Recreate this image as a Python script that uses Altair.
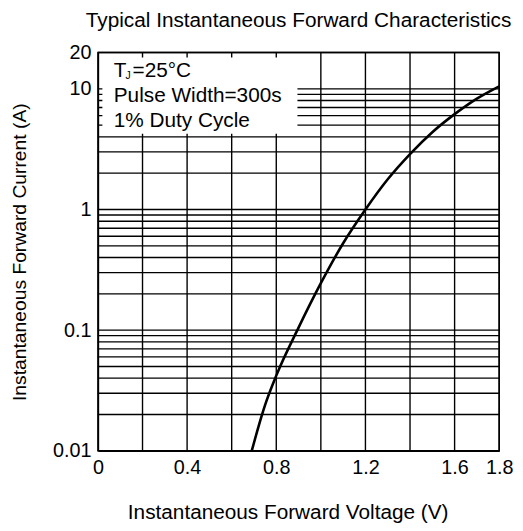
import altair as alt
import pandas as pd

# Curve data
volts = [0.69, 0.72, 0.75, 0.8, 0.9, 1.0, 1.1, 1.2, 1.3, 1.4, 1.5, 1.6, 1.7, 1.8]
amps = [0.01, 0.0158, 0.024, 0.042, 0.105, 0.245, 0.525, 1.0, 1.78, 2.88, 4.37, 6.17, 8.3, 10.5]

# Grid / ticks
x_grid = [0.2, 0.4, 0.6, 0.8, 1.0, 1.2, 1.4, 1.6, 1.8]
y_grid = [0.02, 0.03, 0.04, 0.05, 0.06, 0.07, 0.08, 0.09,
          0.1, 0.2, 0.3, 0.4, 0.5, 0.6, 0.7, 0.8, 0.9,
          1, 2, 3, 4, 5, 6, 7, 8, 9, 10, 20]
x_ticks = [0, 0.4, 0.8, 1.2, 1.6, 1.8]
y_ticks = [0.01, 0.1, 1, 10, 20]

title_text = "Typical Instantaneous Forward Characteristics"
x_title = "Instantaneous Forward Voltage (V)"
y_title = "Instantaneous Forward Current (A)"
note_lines = ["Pulse Width=300s", "1% Duty Cycle"]

FONT = "Liberation Sans"
FS_TICK = 20
FS_TEXT = 21

xs = alt.Scale(domain=[0, 1.8], nice=False, zero=False)
ys = alt.Scale(type="log", domain=[0.01, 20], nice=False)

x_axis = alt.Axis(values=x_ticks, grid=False, ticks=False, domain=True,
                  labelFont=FONT, labelFontSize=FS_TICK, labelColor="black",
                  labelPadding=7, labelFlush=False, title=x_title,
                  titleFont=FONT, titleFontSize=FS_TEXT, titleFontWeight="normal",
                  titleColor="black", titlePadding=25, titleX=192, titleAlign="center",
                  domainColor="black", domainWidth=1.5,
                  labelExpr="datum.value == 0 ? '0' : format(datum.value, '.1f')")
y_axis = alt.Axis(values=y_ticks, grid=False, ticks=False, domain=True,
                  labelFont=FONT, labelFontSize=FS_TICK, labelColor="black",
                  labelPadding=7, labelFlush=False, title=y_title,
                  titleFont=FONT, titleFontSize=19.5, titleFontWeight="normal",
                  titleColor="black", titlePadding=23, domainColor="black",
                  domainWidth=1.5, labelExpr="format(datum.value, '~g')")

curve_df = pd.DataFrame({"v": volts, "i": amps})
vgrid_df = pd.DataFrame({"v": x_grid, "lo": [0.01] * len(x_grid), "hi": [20] * len(x_grid)})
hgrid_df = pd.DataFrame({"i": y_grid, "lo": [0] * len(y_grid), "hi": [1.8] * len(y_grid)})

base_axes = alt.Chart(curve_df).mark_point(opacity=0).encode(
    x=alt.X("v:Q", scale=xs, axis=x_axis),
    y=alt.Y("i:Q", scale=ys, axis=y_axis),
)

vgrid = alt.Chart(vgrid_df).mark_rule(color="black", strokeWidth=1.4).encode(
    x=alt.X("v:Q", scale=xs), y=alt.Y("lo:Q", scale=ys), y2="hi:Q")
hgrid = alt.Chart(hgrid_df).mark_rule(color="black", strokeWidth=1.4).encode(
    y=alt.Y("i:Q", scale=ys), x=alt.X("lo:Q", scale=xs), x2="hi:Q")

box_df = pd.DataFrame({"x1": [0.02], "x2": [0.895], "y1": [18.2], "y2": [4.25]})
box = alt.Chart(box_df).mark_rect(color="white").encode(
    x=alt.X("x1:Q", scale=xs), x2="x2:Q", y=alt.Y("y1:Q", scale=ys), y2="y2:Q")

curve = alt.Chart(curve_df).mark_line(color="black", strokeWidth=2.6,
                                      interpolate="monotone").encode(
    x=alt.X("v:Q", scale=xs), y=alt.Y("i:Q", scale=ys))

tx = 0.071
def label(txt, yv, size=FS_TEXT, dx=0, dy=0):
    return alt.Chart(pd.DataFrame({"t": [txt], "x": [tx], "y": [yv]})).mark_text(
        font=FONT, fontSize=size, align="left", baseline="alphabetic",
        color="black", dx=dx, dy=dy).encode(
        x=alt.X("x:Q", scale=xs), y=alt.Y("y:Q", scale=ys), text="t:N")

notes = (label("T", 12.5) + label("J", 12.5, size=10.5, dx=12, dy=2) +
         label("=25°C", 12.5, dx=19) +
         label(note_lines[0], 7.8) + label(note_lines[1], 4.85))

chart = alt.layer(base_axes, vgrid, hgrid, box, curve, notes).properties(
    width=406, height=403,
    title=alt.Title(title_text, font=FONT, fontSize=FS_TEXT, fontWeight="normal",
                    color="black", anchor="middle", offset=12),
    autosize=alt.AutoSizeParams(type="none"),
    padding={"left": 91, "top": 42, "right": 16, "bottom": 70},
).configure_view(stroke="black", strokeWidth=1.5)

chart.save("out.html", embed_options={"renderer": "svg", "actions": False})
